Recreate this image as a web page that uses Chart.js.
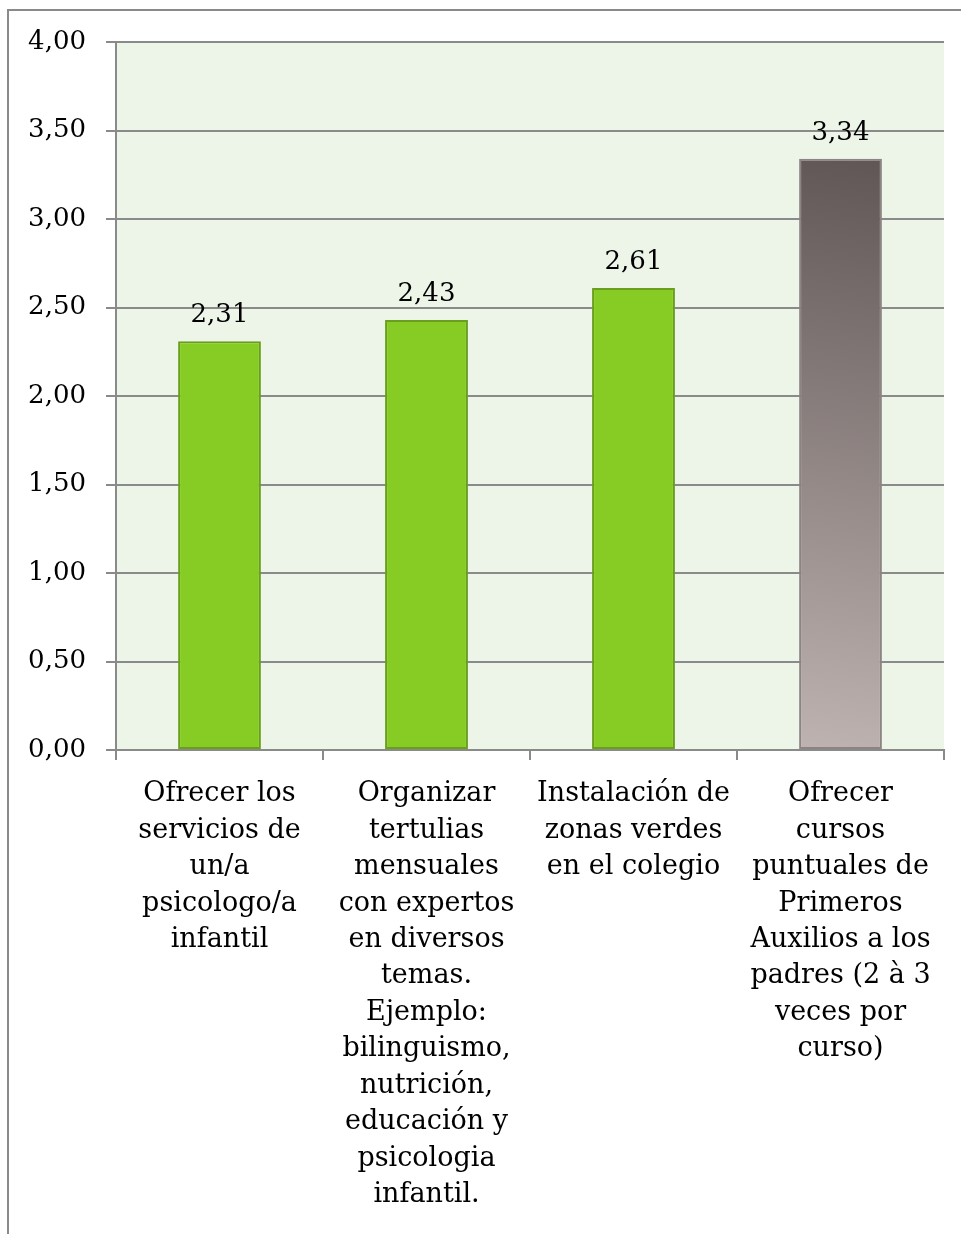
<!DOCTYPE html>
<html>
<head>
<meta charset="utf-8">
<script src="https://cdn.jsdelivr.net/npm/chart.js@4"></script>
<style>
  body { margin: 0; background: #fff; }
  #frame { position: absolute; left: 7px; top: 9px; width: 1000px; height: 1300px;
           border-left: 2px solid #8a8a8a; border-top: 2px solid #8a8a8a; }
  #wrap { position: absolute; left: 0; top: 0; width: 961px; height: 1234px; }
</style>
</head>
<body>
<div id="frame"></div>
<div id="wrap"><canvas id="chart" width="961" height="1234"></canvas></div>
<script>
// data
const categories = [
  ["Ofrecer los", "servicios de", "un/a", "psicologo/a", "infantil"],
  ["Organizar", "tertulias", "mensuales", "con expertos", "en diversos", "temas.", "Ejemplo:", "bilinguismo,", "nutrición,", "educación y", "psicologia", "infantil."],
  ["Instalación de", "zonas verdes", "en el colegio"],
  ["Ofrecer", "cursos", "puntuales de", "Primeros", "Auxilios a los", "padres (2 à 3", "veces por", "curso)"]
];
const values = [2.31, 2.43, 2.61, 3.34];
const highlightIndex = 3;

const FONT = "'DejaVu Serif', serif";
const fmt = v => v.toFixed(2).replace('.', ',');

function barFill(ctx) {
  if (ctx.dataIndex !== highlightIndex) return '#86cc24';
  const chart = ctx.chart;
  const xs = chart.scales.x, ys = chart.scales.y;
  if (!xs || !ys || !chart.chartArea) return '#8e8584';
  const cx = xs.getPixelForValue(ctx.dataIndex);
  const half = 42;
  const g = chart.ctx.createLinearGradient(cx + half, ys.getPixelForValue(values[ctx.dataIndex]), cx - half, ys.getPixelForValue(0));
  g.addColorStop(0, '#605655');
  g.addColorStop(1, '#beb3b1');
  return g;
}

const plotBg = {
  id: 'plotBg',
  beforeDraw(chart) {
    const a = chart.chartArea, c = chart.ctx;
    c.save();
    c.fillStyle = '#edf5e9';
    c.fillRect(a.left, a.top, a.right - a.left, a.bottom - a.top);
    c.restore();
  }
};

const valueLabels = {
  id: 'valueLabels',
  afterDatasetsDraw(chart) {
    const c = chart.ctx;
    c.save();
    c.font = '26px ' + FONT;
    c.fillStyle = '#000';
    c.textAlign = 'center';
    c.textBaseline = 'alphabetic';
    chart.getDatasetMeta(0).data.forEach((bar, i) => {
      c.fillText(fmt(values[i]), bar.x, bar.y - 19);
    });
    c.restore();
  }
};

new Chart(document.getElementById('chart'), {
  type: 'bar',
  data: {
    labels: categories,
    datasets: [{
      data: values,
      backgroundColor: barFill,
      borderColor: values.map((v, i) => i === highlightIndex ? '#8c8483' : '#6a9f1d'),
      borderWidth: 2,
      borderSkipped: false,
      barPercentage: 0.4,
      categoryPercentage: 1
    }]
  },
  options: {
    responsive: false,
    animation: false,
    layout: { padding: { top: 42, right: 17, left: 0, bottom: 0 } },
    plugins: { legend: { display: false }, tooltip: { enabled: false } },
    scales: {
      x: {
        grid: { offset: true, drawOnChartArea: false, drawTicks: true, tickLength: 10, color: '#8a8a8a', lineWidth: 2 },
        border: { color: '#8a8a8a', width: 2 },
        ticks: { color: '#000', font: { family: FONT, size: 27, lineHeight: 1.35 }, padding: 16, maxRotation: 0, autoSkip: false },
        afterFit(s) { s.height = 484; }
      },
      y: {
        min: 0, max: 4,
        grid: { color: '#8a8a8a', lineWidth: 2, tickLength: 10 },
        border: { color: '#8a8a8a', width: 2 },
        ticks: { stepSize: 0.5, color: '#000', font: { family: FONT, size: 26 }, padding: 20, callback: v => fmt(v) },
        afterFit(s) { s.width = 116; }
      }
    }
  },
  plugins: [plotBg, valueLabels]
});
</script>
</body>
</html>
